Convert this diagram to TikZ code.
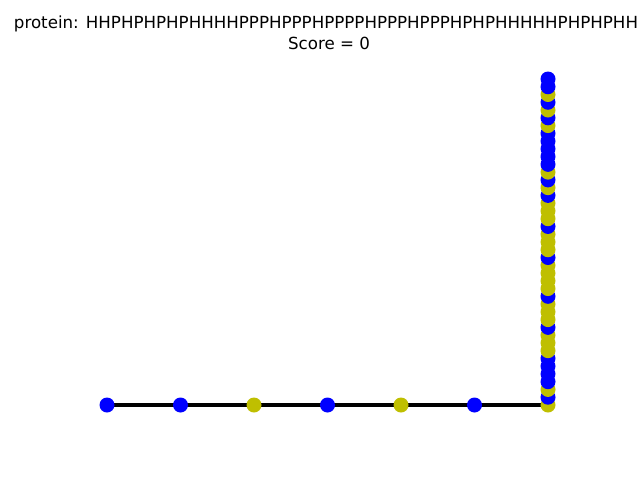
\documentclass[tikz,border=0pt]{standalone}
\usepackage{fontspec}
\setmainfont{DejaVu Sans}
\usetikzlibrary{backgrounds}
\definecolor{hblue}{rgb}{0,0,1}
\definecolor{pyel}{rgb}{0.75,0.75,0}
\begin{document}
\begin{tikzpicture}[x=1pt,y=-1pt,
  res/.style={circle,inner sep=0pt,minimum size=15pt},
  resH/.style={res,fill=hblue},
  resP/.style={res,fill=pyel},
  chainline/.style={line width=4pt,black},
  titletext/.style={anchor=base,inner sep=0pt,font=\fontsize{16.67}{20}\selectfont}]
\useasboundingbox (0,0) rectangle (640,480);
\node[titletext] (title) at (326,28.5) {protein: HHPHPHPHPHHHHPPPHPPPHPPPPHPPPHPPPHPHPHHHHHPHPHPHH};
\node[titletext] (score) at (329,49.5) {Score = 0};
\foreach \t [count=\i from 0] in {H,H,P,H,P,H,P,H,P,H,H,H,H,P,P,P,H,P,P,P,H,P,P,P,P,H,P,P,P,H,P,P,P,H,P,H,P,H,H,H,H,H,P,H,P,H,P,H,H}{
  \pgfmathsetmacro\px{\i<7 ? 107+73.5*\i : 548}
  \pgfmathsetmacro\py{\i<7 ? 405 : 405-7.762*(\i-6)}
  \node[res\t] (r\i) at (\px,\py) {};
}
\begin{scope}[on background layer]
\foreach \j [remember=\j as \k (initially 0)] in {1,...,48}
  \draw[chainline] (r\k.center) -- (r\j.center);
\end{scope}
\end{tikzpicture}
\end{document}
